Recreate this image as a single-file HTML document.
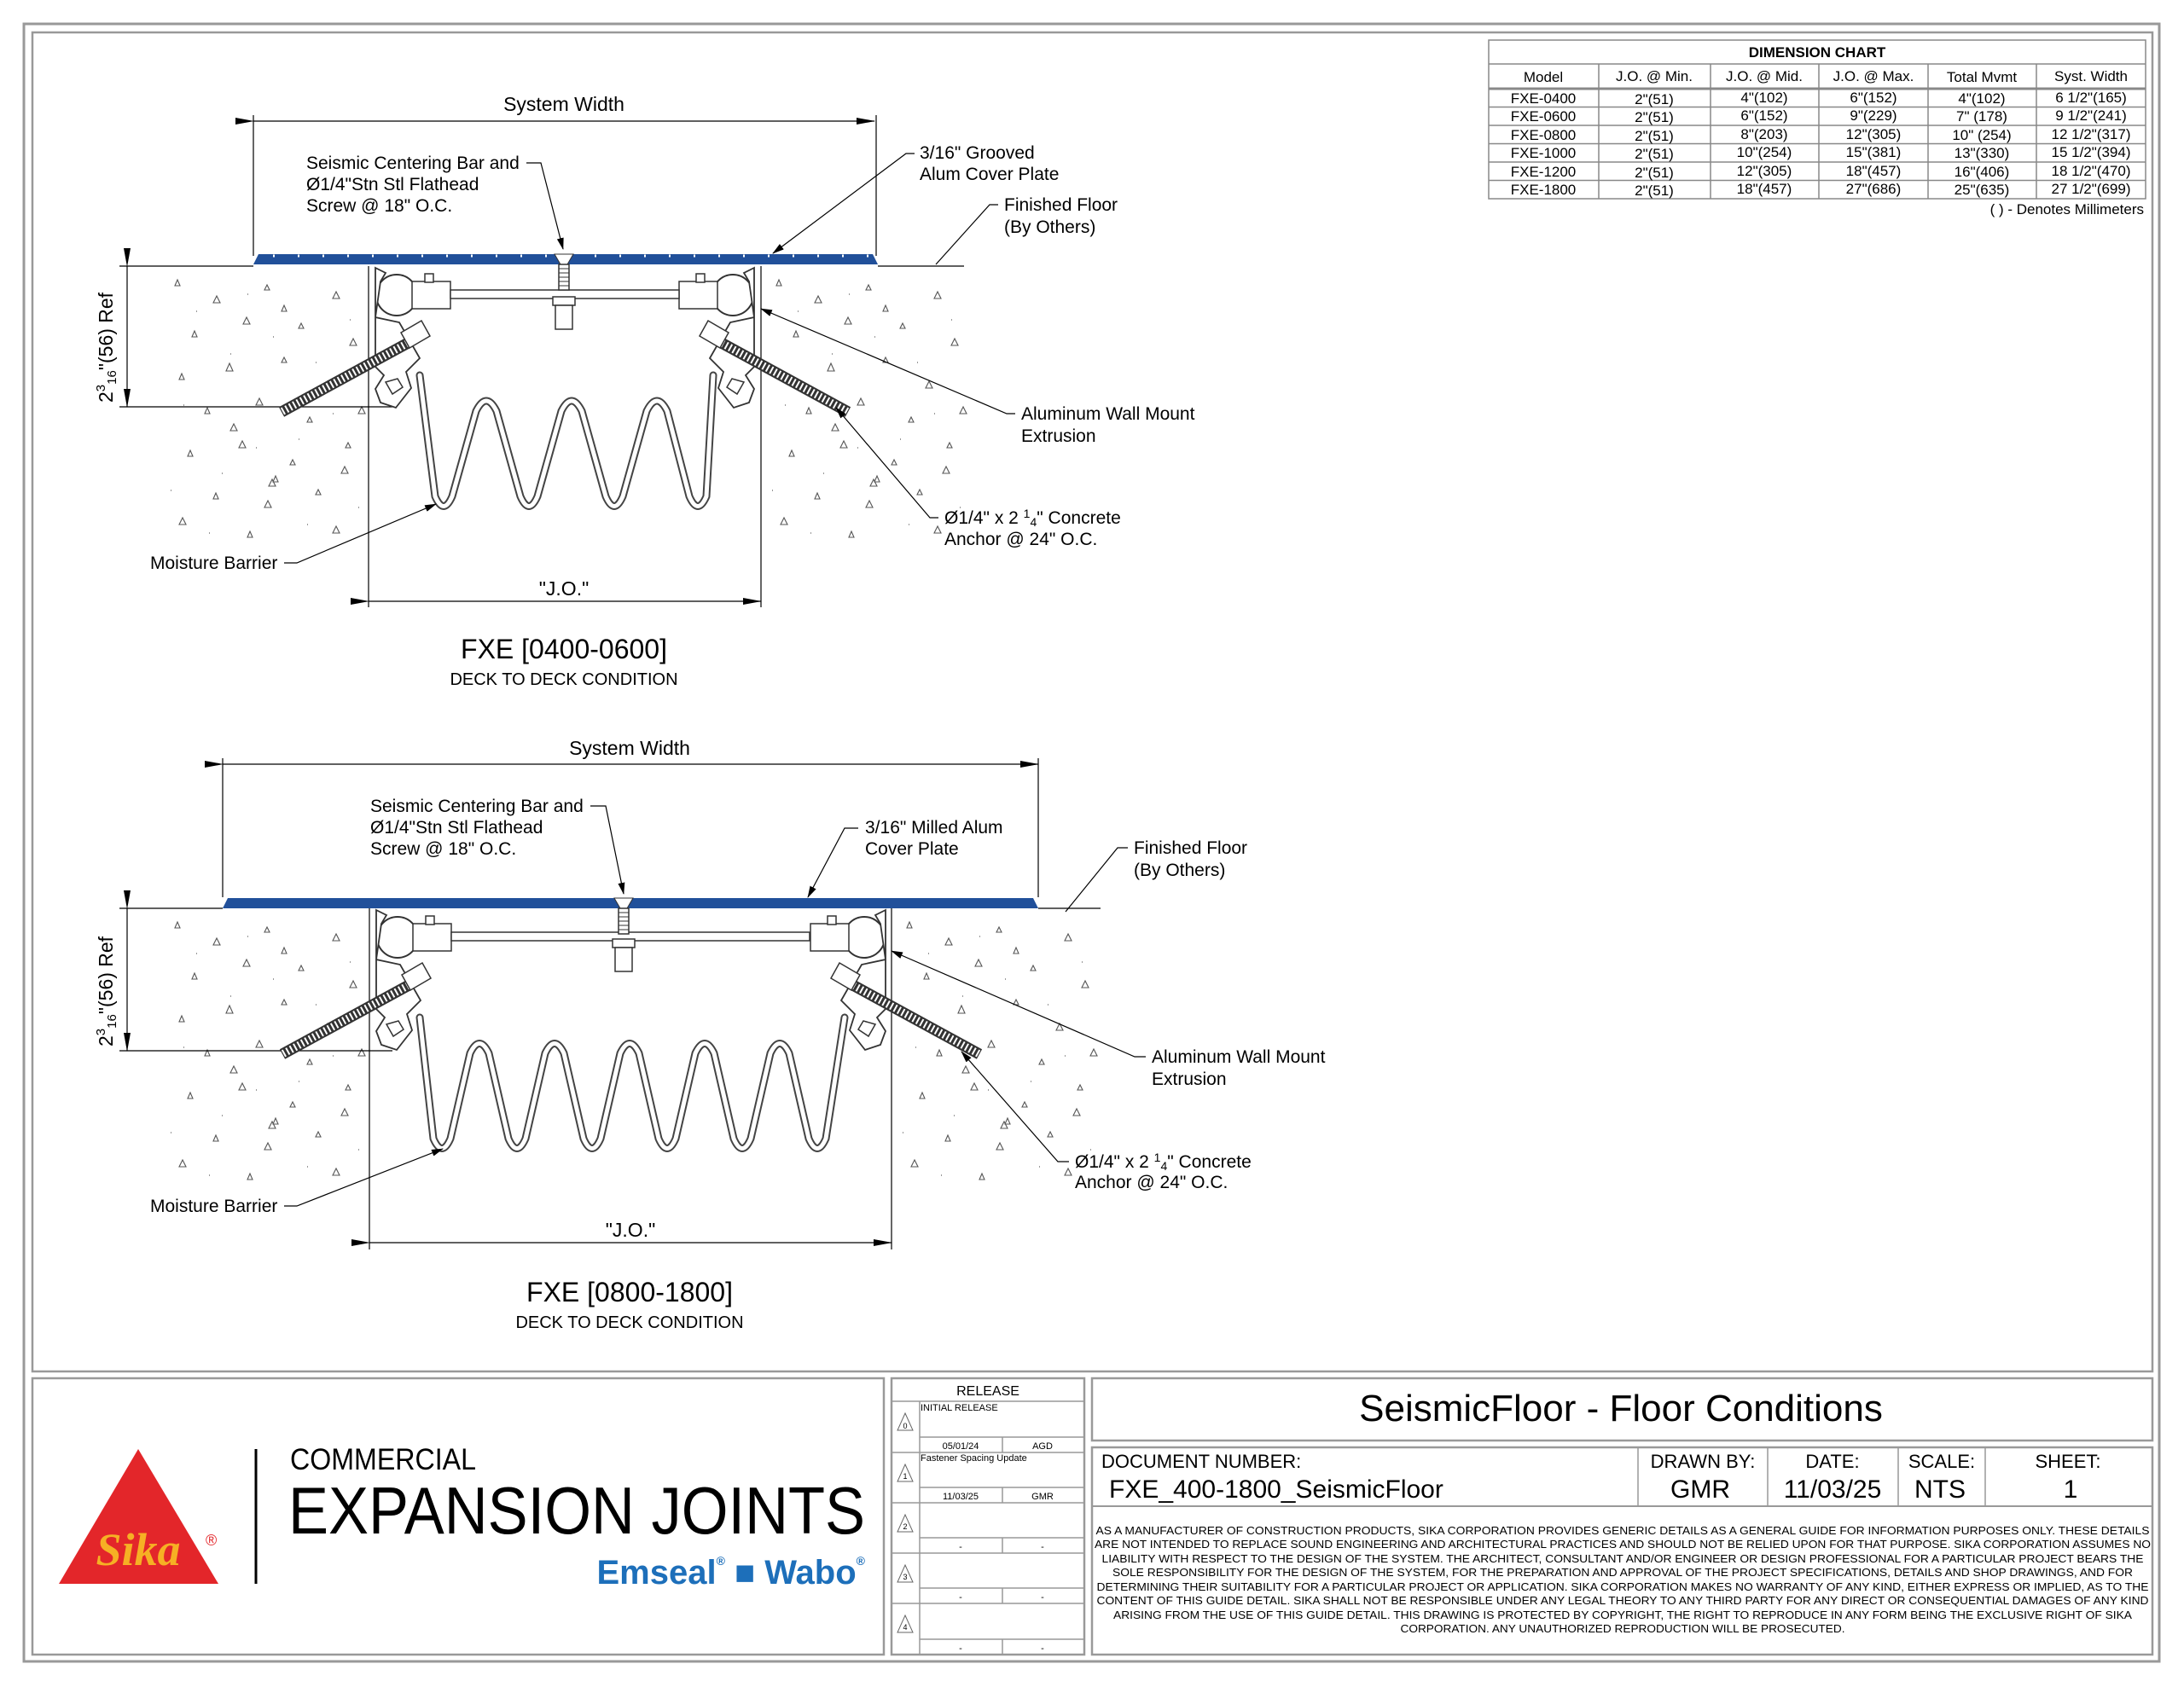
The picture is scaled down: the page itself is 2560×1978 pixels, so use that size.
<!DOCTYPE html>
<html><head><meta charset="utf-8"><style>
html,body{margin:0;padding:0;background:#fff;}
svg{display:block;font-family:"Liberation Sans",sans-serif;}
</style></head><body>
<svg width="2560" height="1978" viewBox="0 0 2560 1978" xmlns="http://www.w3.org/2000/svg">
<defs>
<marker id="ar" markerWidth="14" markerHeight="8" refX="13" refY="4" orient="auto" markerUnits="userSpaceOnUse"><path d="M0,0 L14,4 L0,8 z" fill="#000"/></marker>
<marker id="dr" markerWidth="22" markerHeight="10" refX="21" refY="5" orient="auto" markerUnits="userSpaceOnUse"><path d="M0,1 L22,5 L0,9 z" fill="#000"/></marker>
<g id="spk" fill="none" stroke="#555" stroke-width="1.1">
 <path d="M15 10 l3 -7 l3 7 z M60 30 l4 -8 l4 8 z M120 15 l3 -6 l3 6 z M200 25 l4 -8 l4 8 z M35 70 l3 -7 l3 7 z M95 55 l4 -8 l4 8 z M160 60 l3 -6 l3 6 z M220 80 l4 -8 l4 8 z M20 120 l3 -7 l3 7 z M75 110 l4 -9 l4 9 z M140 100 l3 -6 l3 6 z M190 130 l4 -8 l4 8 z M50 160 l3 -7 l3 7 z M110 150 l4 -8 l4 8 z M170 170 l3 -6 l3 6 z M230 160 l4 -8 l4 8 z M30 210 l3 -7 l3 7 z M90 200 l4 -8 l4 8 z M150 220 l3 -6 l3 6 z M210 230 l4 -8 l4 8 z M60 260 l3 -7 l3 7 z M120 270 l4 -8 l4 8 z M180 255 l3 -6 l3 6 z M20 290 l4 -8 l4 8 z M100 305 l3 -7 l3 7 z M200 300 l4 -8 l4 8 z M140 40 l3 -7 l3 7 z M80 180 l4 -8 l4 8 z M215 200 l3 -6 l3 6 z M130 240 l3 -7 l3 7 z M125 245 l4 -8 l4 8 z"/>
 <path d="M40 40 h1 M80 90 h1 M130 70 h1 M180 100 h1 M25 150 h1 M70 230 h1 M160 190 h1 M200 160 h1 M110 200 h1 M55 300 h1 M170 290 h1 M230 270 h1 M10 250 h1 M100 20 h1 M220 50 h1" stroke="#999" stroke-width="2"/>
</g>
<g id="side">
  <circle cx="465" cy="346" r="24" fill="#fff" stroke="#333" stroke-width="2"/>
  <rect x="483" y="330" width="45" height="32" fill="#fff" stroke="#333" stroke-width="1.5"/>
  <rect x="498" y="321" width="10" height="10" fill="#fff" stroke="#333" stroke-width="1.5"/>
  <path d="M440 314 L452 320 L446 330 L440 372 L468 378 L492 420 L476 436 L482 455 L464 478 L446 472 L440 456 L450 440 L440 430 Z" fill="#fff" stroke="#333" stroke-width="1.8"/>
  <path d="M452 448 l14 -4 l6 10 l-12 8 z" fill="none" stroke="#333" stroke-width="1.5"/>
  <line x1="482" y1="400" x2="330" y2="483" stroke="#333" stroke-width="13"/>
  <line x1="482" y1="400" x2="330" y2="483" stroke="#fff" stroke-width="9" stroke-dasharray="2 3"/>
  <path d="M470 390 l24 -14 l10 18 l-24 14 z" fill="#fff" stroke="#333" stroke-width="1.5"/>
</g>
</defs>
<!-- frames -->
<rect x="28" y="28" width="2503" height="1920" fill="none" stroke="#999" stroke-width="3"/>
<rect x="38" y="38" width="2485" height="1570" fill="none" stroke="#999" stroke-width="2.5"/>
<rect x="38" y="1616" width="998" height="324" fill="none" stroke="#999" stroke-width="2.5"/>
<rect x="1045" y="1616" width="226" height="324" fill="none" stroke="#999" stroke-width="2.5"/>
<rect x="1280" y="1616" width="1243" height="73" fill="none" stroke="#999" stroke-width="2.5"/>
<rect x="1280" y="1697" width="1243" height="243" fill="none" stroke="#999" stroke-width="2.5"/>
<line x1="1280" y1="1766" x2="2523" y2="1766" stroke="#999" stroke-width="2"/>
<g stroke="#999" stroke-width="1.5"><line x1="1920" y1="1697" x2="1920" y2="1766"/><line x1="2072" y1="1697" x2="2072" y2="1766"/><line x1="2225" y1="1697" x2="2225" y2="1766"/><line x1="2327" y1="1697" x2="2327" y2="1766"/></g>

<use href="#spk" transform="translate(190,325)"/>
<use href="#spk" transform="translate(895,325)"/>
<use href="#spk" transform="translate(190,1078)"/>
<use href="#spk" transform="translate(1048,1078)"/>

<!-- ===== TOP DETAIL ===== -->
<g stroke="#000" stroke-width="1.2" fill="none">
 <line x1="297" y1="142" x2="1025" y2="142" marker-start="url(#dr)" marker-end="url(#dr)"/>
 <line x1="297" y1="135" x2="297" y2="300"/><line x1="1027" y1="135" x2="1027" y2="300"/>
 <line x1="140" y1="312" x2="297" y2="312"/><line x1="1029" y1="312" x2="1130" y2="312"/>
 <line x1="432" y1="312" x2="432" y2="712"/><line x1="892" y1="312" x2="892" y2="712"/>
 <line x1="432" y1="705" x2="892" y2="705" marker-start="url(#dr)" marker-end="url(#dr)"/>
 <line x1="149" y1="312" x2="149" y2="477" marker-start="url(#dr)" marker-end="url(#dr)"/>
 <line x1="140" y1="477" x2="460" y2="477"/>
</g>
<path d="M297 310 L303 298 L1023 298 L1029 310 Z" fill="#21509a"/>
<line x1="320" y1="300" x2="1020" y2="300" stroke="#fff" stroke-width="3" stroke-dasharray="2 27"/>
<use href="#side"/>
<use href="#side" transform="translate(1324,0) scale(-1,1)"/>
<rect x="528" y="340" width="268" height="10" fill="#fff" stroke="#333" stroke-width="1.5"/>
<g fill="none" stroke-linejoin="round" stroke-linecap="round">
<path id="b1" d="M492 440 L510 582 Q520 605 530 582 L558 482 Q570 458 582 482 L610 582 Q620 605 630 582 L658 482 Q670 458 682 482 L710 582 Q720 605 730 582 L758 482 Q770 458 782 482 L808 582 Q818 605 828 582 L836 440" stroke="#444" stroke-width="9"/>
<path d="M492 440 L510 582 Q520 605 530 582 L558 482 Q570 458 582 482 L610 582 Q620 605 630 582 L658 482 Q670 458 682 482 L710 582 Q720 605 730 582 L758 482 Q770 458 782 482 L808 582 Q818 605 828 582 L836 440" stroke="#fff" stroke-width="5"/>
</g>
<path d="M650 298 L672 298 L665 310 L657 310 Z" fill="#fff" stroke="#333"/>
<rect x="655" y="310" width="12" height="30" fill="#fff" stroke="#333" stroke-width="1.5"/>
<path d="M655 315 h12 M655 320 h12 M655 325 h12 M655 330 h12 M655 335 h12" stroke="#333"/>
<rect x="648" y="348" width="26" height="10" fill="#fff" stroke="#333" stroke-width="1.5"/>
<rect x="651" y="358" width="20" height="28" fill="#fff" stroke="#333" stroke-width="1.5"/>

<g font-size="21" fill="#000">
 <text x="661" y="130" text-anchor="middle" font-size="23">System Width</text>
 <text x="359" y="198">Seismic Centering Bar and</text>
 <text x="359" y="223">Ø1/4"Stn Stl Flathead</text>
 <text x="359" y="248">Screw @ 18" O.C.</text>
 <text x="1078" y="186">3/16" Grooved</text>
 <text x="1078" y="211">Alum Cover Plate</text>
 <text x="1177" y="247">Finished Floor</text>
 <text x="1177" y="273">(By Others)</text>
 <text x="1197" y="492">Aluminum Wall Mount</text>
 <text x="1197" y="518">Extrusion</text>
 <text x="1107" y="614">Ø1/4" x 2 <tspan font-size="14" dy="-7">1</tspan><tspan font-size="14" dy="10">4</tspan><tspan dy="-3">" Concrete</tspan></text>
 <text x="1107" y="639">Anchor @ 24" O.C.</text>
 <text x="176" y="667">Moisture Barrier</text>
 <text x="661" y="698" text-anchor="middle" font-size="23">"J.O."</text>
 <text x="661" y="772" text-anchor="middle" font-size="32">FXE [0400-0600]</text>
 <text x="661" y="803" text-anchor="middle" font-size="20">DECK TO DECK CONDITION</text>
 <text transform="translate(132,472) rotate(-90)" font-size="23">2<tspan font-size="15" dy="-9">3</tspan><tspan font-size="15" dy="13">16</tspan><tspan dy="-4">"(56) Ref</tspan></text>
</g>
<g stroke="#000" stroke-width="1.2" fill="none">
 <polyline points="617,191 634,191 660,292" marker-end="url(#ar)"/>
 <polyline points="1072,180 1062,180 906,297" marker-end="url(#ar)"/>
 <polyline points="1170,240 1160,240 1097,310"/>
 <polyline points="1190,485 1180,485 892,362" marker-end="url(#ar)"/>
 <polyline points="1100,607 1090,607 980,478" marker-end="url(#ar)"/>
 <polyline points="333,660 348,660 511,591" marker-end="url(#ar)"/>
</g>

<!-- ===== BOTTOM DETAIL ===== -->
<g stroke="#000" stroke-width="1.2" fill="none">
 <line x1="261" y1="896" x2="1217" y2="896" marker-start="url(#dr)" marker-end="url(#dr)"/>
 <line x1="261" y1="889" x2="261" y2="1052"/><line x1="1217" y1="889" x2="1217" y2="1052"/>
 <line x1="140" y1="1065" x2="261" y2="1065"/><line x1="1217" y1="1065" x2="1290" y2="1065"/>
 <line x1="433" y1="1065" x2="433" y2="1465"/><line x1="1045" y1="1065" x2="1045" y2="1465"/>
 <line x1="433" y1="1457" x2="1045" y2="1457" marker-start="url(#dr)" marker-end="url(#dr)"/>
 <line x1="149" y1="1065" x2="149" y2="1232" marker-start="url(#dr)" marker-end="url(#dr)"/>
 <line x1="140" y1="1232" x2="460" y2="1232"/>
</g>
<path d="M261 1065 L267 1053 L1211 1053 L1217 1065 Z" fill="#21509a"/>
<use href="#side" transform="translate(1,753)"/>
<use href="#side" transform="translate(1478,753) scale(-1,1)"/>
<rect x="529" y="1093" width="420" height="10" fill="#fff" stroke="#333" stroke-width="1.5"/>
<g fill="none" stroke-linejoin="round" stroke-linecap="round">
<path d="M492 1193 L508 1335 Q518 1358 528 1335 L551 1235 Q562 1212 573 1235 L596 1335 Q606 1358 616 1335 L639 1235 Q650 1212 661 1235 L684 1335 Q694 1358 704 1335 L727 1235 Q738 1212 749 1235 L772 1335 Q782 1358 792 1335 L815 1235 Q826 1212 837 1235 L860 1335 Q870 1358 880 1335 L903 1235 Q914 1212 925 1235 L948 1335 Q958 1358 968 1335 L990 1193" stroke="#444" stroke-width="9"/>
<path d="M492 1193 L508 1335 Q518 1358 528 1335 L551 1235 Q562 1212 573 1235 L596 1335 Q606 1358 616 1335 L639 1235 Q650 1212 661 1235 L684 1335 Q694 1358 704 1335 L727 1235 Q738 1212 749 1235 L772 1335 Q782 1358 792 1335 L815 1235 Q826 1212 837 1235 L860 1335 Q870 1358 880 1335 L903 1235 Q914 1212 925 1235 L948 1335 Q958 1358 968 1335 L990 1193" stroke="#fff" stroke-width="5"/>
</g>
<path d="M720 1053 L742 1053 L735 1065 L727 1065 Z" fill="#fff" stroke="#333"/>
<rect x="725" y="1065" width="12" height="30" fill="#fff" stroke="#333" stroke-width="1.5"/>
<path d="M725 1070 h12 M725 1075 h12 M725 1080 h12 M725 1085 h12 M725 1090 h12" stroke="#333"/>
<rect x="718" y="1101" width="26" height="10" fill="#fff" stroke="#333" stroke-width="1.5"/>
<rect x="721" y="1111" width="20" height="28" fill="#fff" stroke="#333" stroke-width="1.5"/>

<g font-size="21" fill="#000">
 <text x="738" y="885" text-anchor="middle" font-size="23">System Width</text>
 <text x="434" y="952">Seismic Centering Bar and</text>
 <text x="434" y="977">Ø1/4"Stn Stl Flathead</text>
 <text x="434" y="1002">Screw @ 18" O.C.</text>
 <text x="1014" y="977">3/16" Milled Alum</text>
 <text x="1014" y="1002">Cover Plate</text>
 <text x="1329" y="1001">Finished Floor</text>
 <text x="1329" y="1027">(By Others)</text>
 <text x="1350" y="1246">Aluminum Wall Mount</text>
 <text x="1350" y="1272">Extrusion</text>
 <text x="1260" y="1369">Ø1/4" x 2 <tspan font-size="14" dy="-7">1</tspan><tspan font-size="14" dy="10">4</tspan><tspan dy="-3">" Concrete</tspan></text>
 <text x="1260" y="1393">Anchor @ 24" O.C.</text>
 <text x="176" y="1421">Moisture Barrier</text>
 <text x="739" y="1450" text-anchor="middle" font-size="23">"J.O."</text>
 <text x="738" y="1526" text-anchor="middle" font-size="32">FXE [0800-1800]</text>
 <text x="738" y="1557" text-anchor="middle" font-size="20">DECK TO DECK CONDITION</text>
 <text transform="translate(132,1227) rotate(-90)" font-size="23">2<tspan font-size="15" dy="-9">3</tspan><tspan font-size="15" dy="13">16</tspan><tspan dy="-4">"(56) Ref</tspan></text>
</g>
<g stroke="#000" stroke-width="1.2" fill="none">
 <polyline points="692,945 710,945 731,1048" marker-end="url(#ar)"/>
 <polyline points="1006,971 990,971 947,1052" marker-end="url(#ar)"/>
 <polyline points="1322,994 1310,994 1249,1069"/>
 <polyline points="1343,1239 1330,1239 1045,1115" marker-end="url(#ar)"/>
 <polyline points="1253,1362 1240,1362 1127,1233" marker-end="url(#ar)"/>
 <polyline points="333,1414 348,1414 519,1347" marker-end="url(#ar)"/>
</g>

<!-- ===== DIMENSION CHART ===== -->
<g stroke="#888" stroke-width="1.5" fill="none">
 <rect x="1745" y="47" width="770" height="186"/>
 <line x1="1745" y1="75" x2="2515" y2="75"/>
 <line x1="1745" y1="104" x2="2515" y2="104" stroke-width="3"/>
 <line x1="1745" y1="125.5" x2="2515" y2="125.5"/><line x1="1745" y1="147" x2="2515" y2="147"/>
 <line x1="1745" y1="168.5" x2="2515" y2="168.5"/><line x1="1745" y1="190" x2="2515" y2="190"/>
 <line x1="1745" y1="211.5" x2="2515" y2="211.5"/>
 <line x1="1874" y1="75" x2="1874" y2="233"/><line x1="2005" y1="75" x2="2005" y2="233"/>
 <line x1="2132" y1="75" x2="2132" y2="233"/><line x1="2260" y1="75" x2="2260" y2="233"/>
 <line x1="2387" y1="75" x2="2387" y2="233"/>
</g>
<g font-size="17" text-anchor="middle" fill="#000">
 <text x="2130" y="67" font-weight="bold">DIMENSION CHART</text>
 <text x="1809" y="96">Model</text><text x="1939" y="95">J.O. @ Min.</text><text x="2068" y="95">J.O. @ Mid.</text><text x="2196" y="95">J.O. @ Max.</text><text x="2323" y="96">Total Mvmt</text><text x="2451" y="95">Syst. Width</text>
 <text x="1809" y="121">FXE-0400</text><text x="1939" y="122">2"(51)</text><text x="2068" y="120">4"(102)</text><text x="2196" y="120">6"(152)</text><text x="2323" y="121">4"(102)</text><text x="2451" y="120">6 1/2"(165)</text>
 <text x="1809" y="142">FXE-0600</text><text x="1939" y="143">2"(51)</text><text x="2068" y="141">6"(152)</text><text x="2196" y="141">9"(229)</text><text x="2323" y="142">7" (178)</text><text x="2451" y="141">9 1/2"(241)</text>
 <text x="1809" y="164">FXE-0800</text><text x="1939" y="165">2"(51)</text><text x="2068" y="163">8"(203)</text><text x="2196" y="163">12"(305)</text><text x="2323" y="164">10" (254)</text><text x="2451" y="163">12 1/2"(317)</text>
 <text x="1809" y="185">FXE-1000</text><text x="1939" y="186">2"(51)</text><text x="2068" y="184">10"(254)</text><text x="2196" y="184">15"(381)</text><text x="2323" y="185">13"(330)</text><text x="2451" y="184">15 1/2"(394)</text>
 <text x="1809" y="207">FXE-1200</text><text x="1939" y="208">2"(51)</text><text x="2068" y="206">12"(305)</text><text x="2196" y="206">18"(457)</text><text x="2323" y="207">16"(406)</text><text x="2451" y="206">18 1/2"(470)</text>
 <text x="1809" y="228">FXE-1800</text><text x="1939" y="229">2"(51)</text><text x="2068" y="227">18"(457)</text><text x="2196" y="227">27"(686)</text><text x="2323" y="228">25"(635)</text><text x="2451" y="227">27 1/2"(699)</text>
 <text x="2513" y="251" text-anchor="end">( ) - Denotes Millimeters</text>
</g>

<!-- ===== LOGO ===== -->
<path d="M162 1699 L256 1857 L69 1857 Z" fill="#e3262a"/>
<text x="162" y="1835" text-anchor="middle" font-size="54" font-style="italic" font-weight="bold" fill="#f6b024" font-family="Liberation Serif,serif">Sika</text>
<text x="241" y="1812" font-size="18" fill="#e3262a">®</text>
<line x1="300" y1="1699" x2="300" y2="1857" stroke="#000" stroke-width="3"/>
<text x="340" y="1723" font-size="35" fill="#000" textLength="218" lengthAdjust="spacingAndGlyphs">COMMERCIAL</text>
<text x="338" y="1798" font-size="78" fill="#000" textLength="676" lengthAdjust="spacingAndGlyphs">EXPANSION JOINTS</text>
<text x="1014" y="1857" text-anchor="end" font-size="40" font-weight="bold" fill="#1d6fba">Emseal<tspan font-size="14" dy="-22">®</tspan><tspan dy="22"> ■ Wabo</tspan><tspan font-size="14" dy="-22">®</tspan></text>

<!-- ===== RELEASE ===== -->
<g stroke="#999" stroke-width="1.5" fill="none">
 <line x1="1045" y1="1643" x2="1271" y2="1643"/>
 <line x1="1045" y1="1703" x2="1271" y2="1703"/><line x1="1045" y1="1762" x2="1271" y2="1762"/>
 <line x1="1045" y1="1821" x2="1271" y2="1821"/><line x1="1045" y1="1880" x2="1271" y2="1880"/>
 <line x1="1078" y1="1643" x2="1078" y2="1940"/>
 <line x1="1078" y1="1685" x2="1271" y2="1685"/><line x1="1078" y1="1744" x2="1271" y2="1744"/>
 <line x1="1078" y1="1803" x2="1271" y2="1803"/><line x1="1078" y1="1862" x2="1271" y2="1862"/>
 <line x1="1078" y1="1922" x2="1271" y2="1922"/>
 <line x1="1175" y1="1685" x2="1175" y2="1703"/><line x1="1175" y1="1744" x2="1175" y2="1762"/>
 <line x1="1175" y1="1803" x2="1175" y2="1821"/><line x1="1175" y1="1862" x2="1175" y2="1880"/>
 <line x1="1175" y1="1922" x2="1175" y2="1940"/>
</g>
<g stroke="#666" fill="none" stroke-width="1">
 <path d="M1061 1657 l9 20 h-18 z"/><path d="M1061 1717 l9 20 h-18 z"/><path d="M1061 1776 l9 20 h-18 z"/><path d="M1061 1835 l9 20 h-18 z"/><path d="M1061 1894 l9 20 h-18 z"/>
</g>
<g font-size="11" fill="#000">
 <text x="1158" y="1636" font-size="16" text-anchor="middle">RELEASE</text>
 <text x="1079" y="1654">INITIAL RELEASE</text>
 <text x="1079" y="1713">Fastener Spacing Update</text>
 <g text-anchor="middle"><text x="1061" y="1675" font-size="9">0</text><text x="1061" y="1734" font-size="9">1</text><text x="1061" y="1793" font-size="9">2</text><text x="1061" y="1852" font-size="9">3</text><text x="1061" y="1911" font-size="9">4</text>
 <text x="1126" y="1699">05/01/24</text><text x="1222" y="1699">AGD</text>
 <text x="1126" y="1758">11/03/25</text><text x="1222" y="1758">GMR</text>
 <text x="1126" y="1817">-</text><text x="1222" y="1817">-</text><text x="1126" y="1876">-</text><text x="1222" y="1876">-</text><text x="1126" y="1936">-</text><text x="1222" y="1936">-</text></g>
</g>

<!-- ===== TITLE BLOCK ===== -->
<g fill="#000">
 <text x="1900" y="1666" text-anchor="middle" font-size="44">SeismicFloor - Floor Conditions</text>
 <text x="1291" y="1721" font-size="22">DOCUMENT NUMBER:</text>
 <text x="1300" y="1756" font-size="30">FXE_400-1800_SeismicFloor</text>
 <g text-anchor="middle"><text x="1996" y="1721" font-size="22">DRAWN BY:</text><text x="2148" y="1721" font-size="22">DATE:</text><text x="2276" y="1721" font-size="22">SCALE:</text><text x="2424" y="1721" font-size="22">SHEET:</text>
 <text x="1993" y="1756" font-size="30">GMR</text><text x="2148" y="1756" font-size="30">11/03/25</text><text x="2274" y="1756" font-size="30">NTS</text><text x="2427" y="1756" font-size="30">1</text></g>
 <g font-size="13" text-anchor="middle">
 <text x="1902" y="1799" textLength="1235" lengthAdjust="spacingAndGlyphs">AS A MANUFACTURER OF CONSTRUCTION PRODUCTS, SIKA CORPORATION PROVIDES GENERIC DETAILS AS A GENERAL GUIDE FOR INFORMATION PURPOSES ONLY. THESE DETAILS</text>
 <text x="1902" y="1815" textLength="1238" lengthAdjust="spacingAndGlyphs">ARE NOT INTENDED TO REPLACE SOUND ENGINEERING AND ARCHITECTURAL PRACTICES AND SHOULD NOT BE RELIED UPON FOR THAT PURPOSE. SIKA CORPORATION ASSUMES NO</text>
 <text x="1902" y="1832" textLength="1221" lengthAdjust="spacingAndGlyphs">LIABILITY WITH RESPECT TO THE DESIGN OF THE SYSTEM. THE ARCHITECT, CONSULTANT AND/OR ENGINEER OR DESIGN PROFESSIONAL FOR A PARTICULAR PROJECT BEARS THE</text>
 <text x="1902" y="1848" textLength="1196" lengthAdjust="spacingAndGlyphs">SOLE RESPONSIBILITY FOR THE DESIGN OF THE SYSTEM, FOR THE PREPARATION AND APPROVAL OF THE PROJECT SPECIFICATIONS, DETAILS AND SHOP DRAWINGS, AND FOR</text>
 <text x="1902" y="1865" textLength="1233" lengthAdjust="spacingAndGlyphs">DETERMINING THEIR SUITABILITY FOR A PARTICULAR PROJECT OR APPLICATION. SIKA CORPORATION MAKES NO WARRANTY OF ANY KIND, EITHER EXPRESS OR IMPLIED, AS TO THE</text>
 <text x="1902" y="1881" textLength="1233" lengthAdjust="spacingAndGlyphs">CONTENT OF THIS GUIDE DETAIL. SIKA SHALL NOT BE RESPONSIBLE UNDER ANY LEGAL THEORY TO ANY THIRD PARTY FOR ANY DIRECT OR CONSEQUENTIAL DAMAGES OF ANY KIND</text>
 <text x="1902" y="1898" textLength="1194" lengthAdjust="spacingAndGlyphs">ARISING FROM THE USE OF THIS GUIDE DETAIL. THIS DRAWING IS PROTECTED BY COPYRIGHT, THE RIGHT TO REPRODUCE IN ANY FORM BEING THE EXCLUSIVE RIGHT OF SIKA</text>
 <text x="1902" y="1914" textLength="521" lengthAdjust="spacingAndGlyphs">CORPORATION. ANY UNAUTHORIZED REPRODUCTION WILL BE PROSECUTED.</text>
 </g>
</g>
</svg>
</body></html>
